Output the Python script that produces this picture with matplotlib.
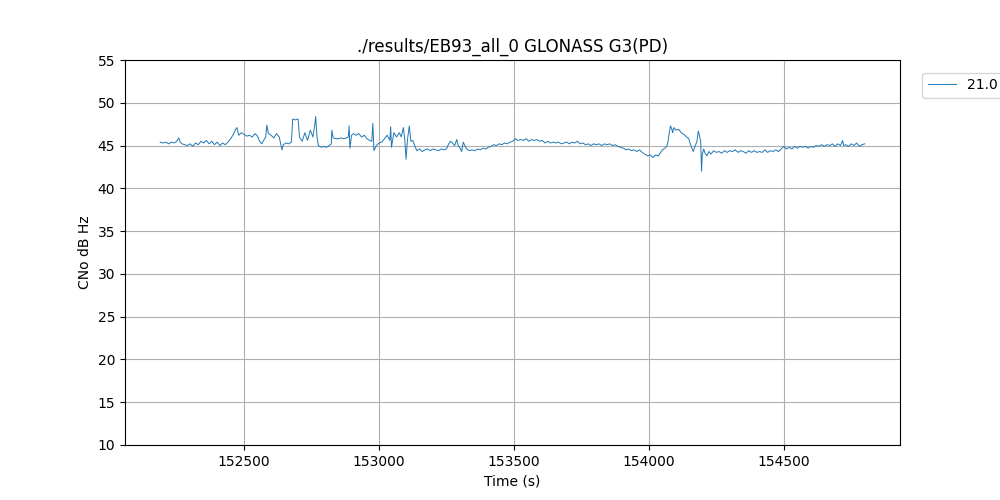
import matplotlib
matplotlib.use("Agg")
import matplotlib.pyplot as plt

title = "./results/EB93_all_0 GLONASS G3(PD)"
series_label = "21.0"

time_s = [
    152189, 152200, 152210, 152220, 152230, 152240, 152250, 152258, 152263, 152270,
    152280, 152290, 152300, 152310, 152320, 152330, 152340, 152350, 152360, 152370,
    152380, 152390, 152400, 152410, 152420, 152430, 152440, 152450, 152460, 152468,
    152473, 152480, 152490, 152500, 152510, 152520, 152530, 152540, 152550, 152557,
    152565, 152572, 152580, 152584, 152590, 152600, 152610, 152620, 152630, 152640,
    152645, 152655, 152665, 152675, 152680, 152690, 152700, 152705, 152715, 152725,
    152735, 152745, 152755, 152762, 152765, 152770, 152775, 152785, 152795, 152805,
    152815, 152823, 152825, 152830, 152840, 152850, 152860, 152870, 152880, 152886,
    152889, 152892, 152898, 152905, 152915, 152925, 152935, 152945, 152955, 152965,
    152973, 152977, 152981, 152990, 153000, 153010, 153020, 153030, 153040, 153043,
    153046, 153055, 153065, 153075, 153082, 153090, 153095, 153100, 153105, 153112,
    153118, 153125, 153132, 153140, 153150, 153160, 153170, 153180, 153190, 153200,
    153210, 153220, 153230, 153240, 153250, 153258, 153265, 153272, 153280, 153288,
    153293, 153300, 153306, 153312, 153318, 153325, 153335, 153345, 153355, 153365,
    153375, 153385, 153395, 153405, 153415, 153425, 153435, 153445, 153455, 153465,
    153475, 153485, 153495, 153505, 153515, 153525, 153535, 153545, 153555, 153565,
    153575, 153585, 153595, 153605, 153615, 153625, 153635, 153645, 153655, 153665,
    153675, 153685, 153695, 153705, 153715, 153725, 153735, 153745, 153755, 153765,
    153775, 153785, 153795, 153805, 153815, 153825, 153835, 153845, 153855, 153865,
    153875, 153885, 153895, 153905, 153915, 153925, 153935, 153945, 153955, 153965,
    153975, 153985, 153995, 154005, 154015, 154025, 154035, 154041, 154050, 154060,
    154066, 154071, 154076, 154080, 154084, 154088, 154092, 154100, 154110, 154120,
    154130, 154140, 154148, 154152, 154158, 154164, 154170, 154178, 154183, 154187,
    154192, 154195, 154198, 154203, 154208, 154215, 154222, 154230, 154240, 154250,
    154260, 154270, 154280, 154290, 154300, 154310, 154320, 154330, 154340, 154350,
    154360, 154370, 154380, 154390, 154400, 154410, 154420, 154430, 154440, 154450,
    154460, 154470, 154480, 154490, 154500, 154510, 154520, 154530, 154540, 154550,
    154560, 154570, 154580, 154590, 154600, 154610, 154620, 154630, 154640, 154650,
    154660, 154670, 154680, 154690, 154700, 154710, 154718, 154722, 154730, 154740,
    154750, 154760, 154770, 154780, 154790, 154800,
]

cno_db_hz = [
    45.4, 45.3, 45.4, 45.2, 45.4, 45.3, 45.5, 45.9, 45.4, 45.2,
    45.1, 45.0, 45.2, 44.9, 45.3, 45.1, 45.5, 45.3, 45.6, 45.2,
    45.5, 45.1, 45.4, 45.0, 45.3, 45.1, 45.4, 45.8, 46.3, 46.9,
    47.1, 46.2, 46.5, 46.3, 46.1, 46.2, 46.0, 46.4, 46.1, 45.5,
    45.2, 45.6, 46.0, 47.4, 46.4, 46.2, 45.9, 46.4, 46.0, 44.5,
    45.1, 45.3, 45.2, 45.4, 48.1, 48.0, 48.1, 46.0, 45.5, 46.5,
    45.6, 46.8, 46.0, 47.5, 48.4, 46.0, 45.0, 44.8, 44.9, 44.8,
    45.0, 45.2, 46.8, 45.9, 45.8, 45.8, 45.9, 45.8, 45.9, 46.0,
    47.3, 44.7, 46.2, 46.4, 46.2, 46.4, 46.0, 46.2, 45.8, 45.6,
    45.5, 47.6, 44.4, 45.0, 45.3, 45.4, 45.8, 46.2, 45.6, 47.2,
    44.8, 46.5, 46.0, 46.5, 46.0, 47.1, 45.8, 43.4, 45.6, 47.3,
    45.5, 45.6, 45.0, 44.4, 44.6, 44.3, 44.5, 44.6, 44.4, 44.6,
    44.5, 44.4, 44.6, 44.5, 44.6, 45.2, 45.5, 45.3, 45.0, 45.7,
    45.0, 44.7, 44.3, 45.4, 45.0, 44.6, 44.4, 44.5, 44.4, 44.6,
    44.5, 44.7, 44.6, 44.8, 44.9, 45.1, 45.0, 45.2, 45.1, 45.3,
    45.2, 45.4, 45.5, 45.8, 45.6, 45.7, 45.6, 45.8, 45.5, 45.7,
    45.6, 45.7, 45.5, 45.6, 45.3, 45.5, 45.3, 45.4, 45.3, 45.4,
    45.2, 45.3, 45.4, 45.2, 45.4, 45.3, 45.5, 45.2, 45.3, 45.1,
    45.2, 45.0, 45.2, 45.1, 45.2, 45.0, 45.2, 45.1, 45.2, 45.0,
    45.1, 44.9, 44.8, 44.7, 44.5, 44.6, 44.4, 44.5, 44.3, 44.5,
    44.2, 44.0, 43.8, 43.9, 43.6, 43.9, 43.8, 44.1, 44.5, 44.7,
    44.9, 45.5, 46.6, 47.3, 47.0, 46.5, 47.1, 46.8, 46.9, 46.5,
    46.3, 46.0, 45.8, 45.3, 44.8, 44.3, 44.8, 45.5, 46.7, 46.2,
    45.5, 42.0, 44.0, 44.6, 44.1, 43.8, 44.3, 44.0, 44.4, 44.2,
    44.3, 44.1, 44.4, 44.2, 44.4, 44.3, 44.5, 44.2, 44.4, 44.3,
    44.1, 44.4, 44.2, 44.4, 44.2, 44.3, 44.2, 44.5, 44.2, 44.4,
    44.3, 44.5, 44.3, 44.6, 44.9, 44.6, 44.8, 44.6, 44.9, 44.7,
    44.9, 44.8, 44.9, 44.7, 44.9, 44.8, 45.0, 44.9, 45.1, 44.9,
    45.1, 45.0, 45.2, 44.9, 45.2, 45.0, 45.6, 45.0, 45.1, 44.9,
    45.2, 45.0, 45.3, 44.9, 45.1, 45.2,
]

y_ticks = [10, 15, 20, 25, 30, 35, 40, 45, 50, 55]

fig, ax = plt.subplots(figsize=(10, 5), dpi=100)
ax.plot(time_s, cno_db_hz, lw=0.7, color="#1f77b4", label=series_label)

ax.set_ylim(10, 55)
ax.set_yticks(y_ticks)
ax.ticklabel_format(axis="x", useOffset=False, style="plain")
ax.grid(True, color="#b0b0b0")
ax.set_title(title)
ax.set_xlabel("Time (s)")
ax.set_ylabel("CNo dB Hz")
ax.legend(loc="upper left", bbox_to_anchor=(1.02, 0.985))

fig.savefig("out.png", dpi=100)
